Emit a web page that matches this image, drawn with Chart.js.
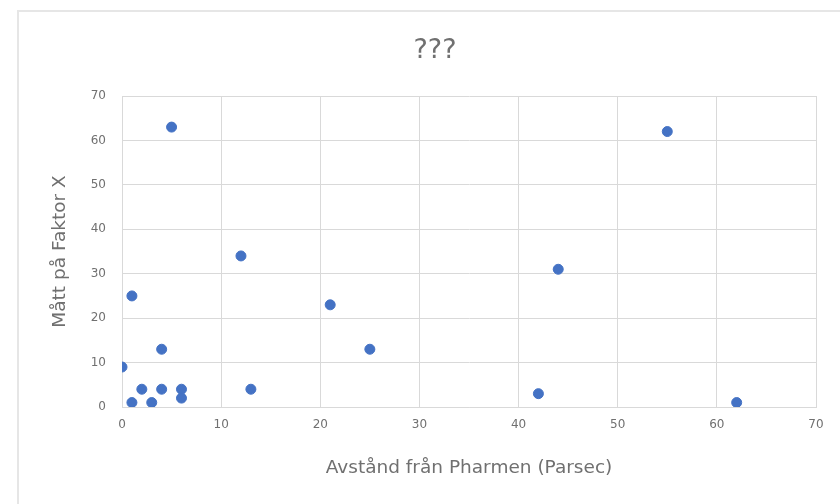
<!DOCTYPE html>
<html>
<head>
<meta charset="utf-8">
<script src="https://cdn.jsdelivr.net/npm/chart.js@4"></script>
<style>
    html, body { margin: 0; padding: 0; background: #ffffff; }
    #wrap { position: relative; width: 840px; height: 504px; overflow: hidden; }
    #frame { position: absolute; left: 17px; top: 10px; width: 900px; height: 600px; border: 2px solid #e6e6e6; box-sizing: border-box; }
    #chart { position: absolute; left: 0; top: 0; }
</style>
</head>
<body>
<div id="wrap">
    <div id="frame"></div>
    <canvas id="chart" width="840" height="504"></canvas>
</div>
<script>
    // distance from Pharmen (parsec) and measured factor X
    const distance = [0, 1, 1, 2, 3, 4, 4, 5, 6, 6, 12, 13, 21, 25, 42, 44, 55, 62];
    const factorX = [9, 1, 25, 4, 1, 13, 4, 63, 4, 2, 34, 4, 23, 13, 3, 31, 62, 1];

    const chartTitle = "???";
    const xTitle = "Avstånd från Pharmen (Parsec)";
    const yTitle = "Mått på Faktor X";

    const textColor = "#707070";
    const gridColor = "#d9d9d9";
    const fontFamily = "'DejaVu Sans', sans-serif";

    const points = distance.map((d, i) => ({ x: d, y: factorX[i] }));

    // Excel centres the title on the whole chart box, not on the plot area
    const boxTitle = {
        id: "boxTitle",
        afterDraw(chart) {
            const ctx = chart.ctx;
            ctx.save();
            ctx.fillStyle = textColor;
            ctx.font = "27px " + fontFamily;
            ctx.textAlign = "center";
            ctx.textBaseline = "middle";
            ctx.fillText(chartTitle, 435, 51);
            ctx.restore();
        }
    };

    new Chart(document.getElementById("chart"), {
        type: "scatter",
        data: {
            datasets: [{
                label: "Faktor X",
                data: points,
                backgroundColor: "#4472c4",
                borderColor: "#4472c4",
                pointRadius: 5,
                pointHoverRadius: 5,
            }]
        },
        options: {
            responsive: false,
            animation: false,
            layout: { padding: { left: 0, right: 24, top: 96, bottom: 0 } },
            plugins: {
                legend: { display: false },
                tooltip: { enabled: false },
                title: { display: false }
            },
            scales: {
                x: {
                    type: "linear",
                    min: 0,
                    max: 70,
                    ticks: { stepSize: 10, color: textColor, padding: 11, font: { family: fontFamily, size: 12 } },
                    grid: { color: gridColor, drawTicks: false },
                    border: { color: gridColor },
                    title: {
                        display: true,
                        text: xTitle,
                        color: textColor,
                        font: { family: fontFamily, size: 18.5 },
                        padding: { top: 0, bottom: 25 }
                    },
                    afterFit: (scale) => { scale.height = 97; }
                },
                y: {
                    type: "linear",
                    min: 0,
                    max: 70,
                    ticks: { stepSize: 10, color: textColor, padding: 16, font: { family: fontFamily, size: 12 } },
                    grid: { color: gridColor, drawTicks: false },
                    border: { color: gridColor },
                    title: {
                        display: true,
                        text: yTitle,
                        color: textColor,
                        font: { family: fontFamily, size: 18.5 },
                        padding: { top: 49, bottom: 0 }
                    },
                    afterFit: (scale) => { scale.width = 122; }
                }
            }
        },
        plugins: [boxTitle]
    });
</script>
</body>
</html>
